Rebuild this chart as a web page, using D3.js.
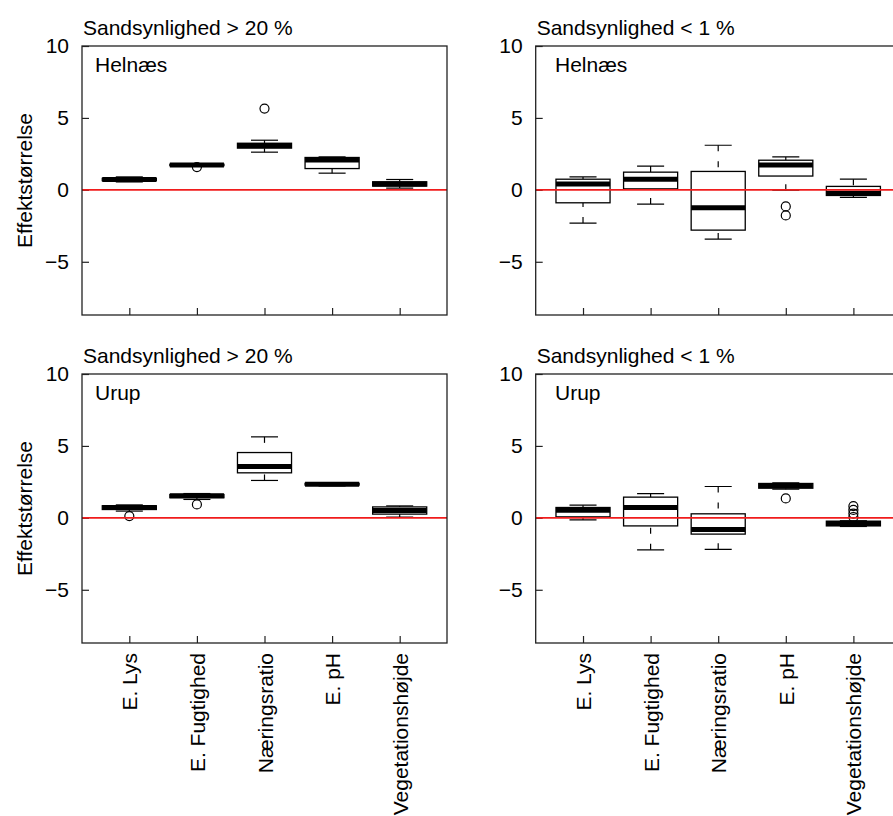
<!DOCTYPE html>
<html>
<head>
<meta charset="utf-8">
<script src="https://cdn.jsdelivr.net/npm/d3@7"></script>
<style>
  html, body { margin: 0; padding: 0; background: #fff; }
  svg { display: block; }
  text { font-family: "Liberation Sans", Arial, Helvetica, sans-serif; fill: #000; }
</style>
</head>
<body>
<svg id="chart" width="893" height="816"></svg>
<script>
// Effect sizes per indicator, two sites × two probability classes.
const categories = ["E. Lys", "E. Fugtighed", "Næringsratio", "E. pH", "Vegetationshøjde"];
const yTicks = [-5, 0, 5, 10];
const siteNames = ["Helnæs", "Urup"];
const probTitles = ["Sandsynlighed > 20 %", "Sandsynlighed < 1 %"];
const yLabel = "Effektstørrelse";

// Five-number summaries per category: [lower whisker, Q1, median, Q3, upper whisker]
const helnaesHigh = [
  [0.55, 0.64, 0.72, 0.80, 0.90],
  [1.66, 1.68, 1.72, 1.78, 1.82],
  [2.62, 2.90, 3.08, 3.24, 3.45],
  [1.16, 1.48, 2.08, 2.25, 2.29],
  [0.12, 0.26, 0.40, 0.56, 0.72]
];
const helnaesHighOut = [[], [1.58], [5.65], [], []];

const helnaesLow = [
  [-2.31, -0.90, 0.40, 0.74, 0.90],
  [-0.99, 0.07, 0.74, 1.23, 1.65],
  [-3.42, -2.80, -1.25, 1.28, 3.10],
  [-0.02, 0.96, 1.72, 2.06, 2.29],
  [-0.53, -0.39, -0.23, 0.24, 0.74]
];
const helnaesLowOut = [[], [], [], [-1.15, -1.78], []];

const urupHigh = [
  [0.47, 0.58, 0.72, 0.84, 0.90],
  [1.28, 1.40, 1.53, 1.62, 1.69],
  [2.60, 3.13, 3.57, 4.54, 5.63],
  [2.22, 2.28, 2.34, 2.40, 2.45],
  [0.05, 0.26, 0.51, 0.76, 0.83]
];
const urupHighOut = [[0.12], [0.93], [], [], []];

const urupLow = [
  [-0.14, 0.07, 0.52, 0.72, 0.88],
  [-2.22, -0.56, 0.72, 1.44, 1.69],
  [-2.19, -1.13, -0.81, 0.28, 2.18],
  [1.99, 2.06, 2.25, 2.39, 2.43],
  [-0.60, -0.56, -0.39, -0.23, -0.20]
];
const urupLowOut = [[], [], [], [1.35], [0.06, 0.30, 0.55, 0.81]];

// Panel layout
const panelW = 365, panelH = 269;
const colLeft = [82, 535.7];
const rowTop = [46, 374];
const siteLabelDx = [13, 19.3];
const FONT = 21;

const panels = [
  { row: 0, col: 0, stats: helnaesHigh, out: helnaesHighOut, site: siteNames[0], title: probTitles[0] },
  { row: 0, col: 1, stats: helnaesLow, out: helnaesLowOut, site: siteNames[0], title: probTitles[1] },
  { row: 1, col: 0, stats: urupHigh, out: urupHighOut, site: siteNames[1], title: probTitles[0] },
  { row: 1, col: 1, stats: urupLow, out: urupLowOut, site: siteNames[1], title: probTitles[1] }
];

const svg = d3.select("#chart");
const defs = svg.append("defs");

panels.forEach((p, pi) => {
  const left = colLeft[p.col], top = rowTop[p.row];
  const x = d3.scaleLinear().domain([0.3, 5.7]).range([left, left + panelW]);
  const y = d3.scaleLinear().domain([-8.7, 10]).range([top + panelH, top]);

  defs.append("clipPath").attr("id", "clip" + pi)
    .append("rect").attr("x", left).attr("y", top).attr("width", panelW).attr("height", panelH);

  const g = svg.append("g");

  // y axis (ticks point inward)
  const yAxis = g.append("g")
    .attr("transform", `translate(${left},0)`)
    .call(d3.axisLeft(y).tickValues(yTicks).tickSize(-7).tickPadding(13).tickFormat(d3.format("d")));
  yAxis.select(".domain").remove();
  yAxis.selectAll("line").attr("stroke", "#222").attr("stroke-width", 1.2);
  yAxis.selectAll("text").attr("font-size", FONT).attr("fill", "#000")
    .style("font-family", '"Liberation Sans", Arial, sans-serif');

  // x axis (ticks point inward, labels only on the bottom row)
  const xAxis = g.append("g")
    .attr("transform", `translate(0,${top + panelH})`)
    .call(d3.axisBottom(x).tickValues(d3.range(1, categories.length + 1)).tickSize(-7)
      .tickFormat(d => p.row === 1 ? categories[d - 1] : ""));
  xAxis.select(".domain").remove();
  xAxis.selectAll("line").attr("stroke", "#222").attr("stroke-width", 1.2);
  xAxis.selectAll("text")
    .attr("font-size", FONT).attr("fill", "#000")
    .style("font-family", '"Liberation Sans", Arial, sans-serif')
    .attr("transform", "rotate(-90)")
    .attr("text-anchor", "end")
    .attr("x", -10).attr("y", 0).attr("dy", "0.36em");

  // boxes
  const body = g.append("g").attr("clip-path", `url(#clip${pi})`);
  const halfBox = 0.4, halfStaple = 0.2;
  p.stats.forEach((s, i) => {
    const c = i + 1;
    const [lo, q1, med, q3, hi] = s;
    const bg = body.append("g");
    // whiskers, dashed from the staple towards the box
    [[lo, q1], [hi, q3]].forEach(([from, to]) => {
      bg.append("line")
        .attr("x1", x(c)).attr("x2", x(c))
        .attr("y1", y(from)).attr("y2", y(to))
        .attr("stroke", "#000").attr("stroke-width", 1.2)
        .attr("stroke-dasharray", "6,10");
      bg.append("line")
        .attr("x1", x(c - halfStaple)).attr("x2", x(c + halfStaple))
        .attr("y1", y(from)).attr("y2", y(from))
        .attr("stroke", "#000").attr("stroke-width", 1.2);
    });
    bg.append("rect")
      .attr("x", x(c - halfBox)).attr("width", x(c + halfBox) - x(c - halfBox))
      .attr("y", y(q3)).attr("height", y(q1) - y(q3))
      .attr("fill", "#fff").attr("stroke", "#000").attr("stroke-width", 1.3);
    bg.append("line")
      .attr("x1", x(c - halfBox)).attr("x2", x(c + halfBox))
      .attr("y1", y(med)).attr("y2", y(med))
      .attr("stroke", "#000").attr("stroke-width", 5);
    p.out[i].forEach(v => {
      bg.append("circle")
        .attr("cx", x(c)).attr("cy", y(v)).attr("r", 4.5)
        .attr("fill", "none").attr("stroke", "#000").attr("stroke-width", 1.2);
    });
  });

  // zero reference line
  body.append("line")
    .attr("x1", left).attr("x2", left + panelW)
    .attr("y1", y(0)).attr("y2", y(0))
    .attr("stroke", "#f01c1c").attr("stroke-width", 1.6);

  // frame
  g.append("rect")
    .attr("x", left).attr("y", top).attr("width", panelW).attr("height", panelH)
    .attr("fill", "none").attr("stroke", "#222").attr("stroke-width", 1.3);

  // titles
  g.append("text").attr("x", left + 1).attr("y", top - 11)
    .attr("font-size", FONT).text(p.title);
  g.append("text").attr("x", left + siteLabelDx[p.col]).attr("y", top + 26)
    .attr("font-size", FONT).text(p.site);

  if (p.col === 0) {
    g.append("text")
      .attr("transform", `translate(32,${top + panelH / 2}) rotate(-90)`)
      .attr("text-anchor", "middle")
      .attr("font-size", FONT).text(yLabel);
  }
});
</script>
</body>
</html>
